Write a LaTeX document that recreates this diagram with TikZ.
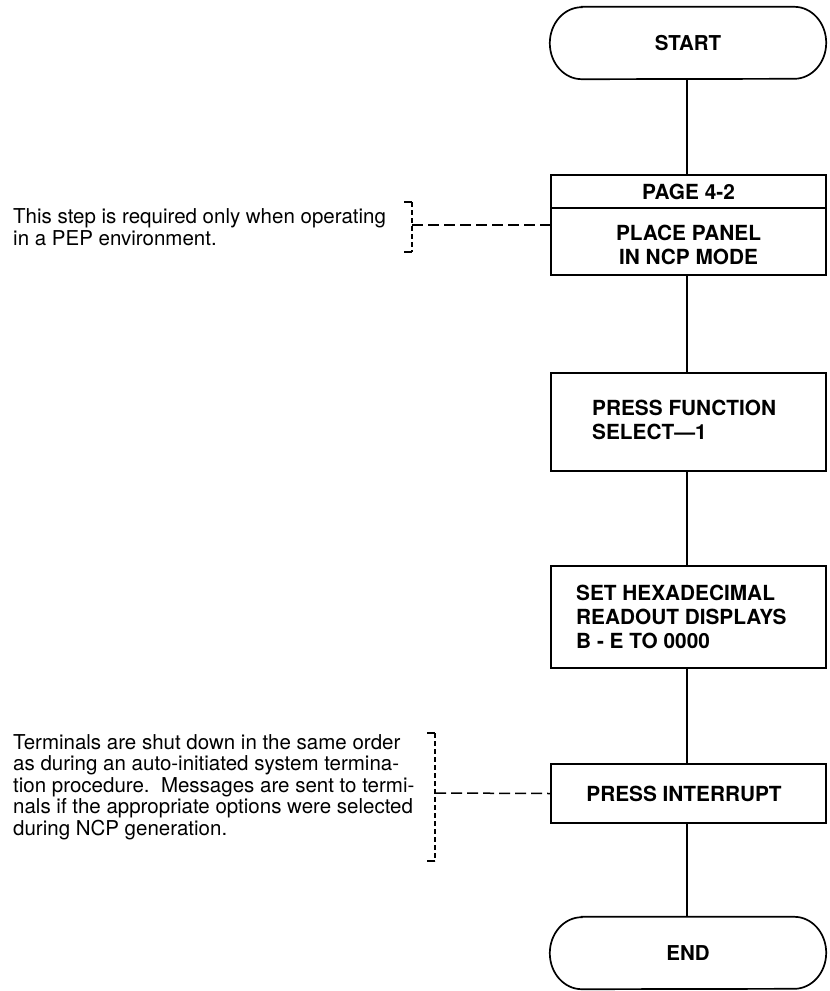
\documentclass[tikz,border=0pt]{standalone}
\usepackage{fontspec}
\setmainfont{TeX Gyre Heros}
\begin{document}
\begin{tikzpicture}[x=1pt,y=-1pt,
  box/.style={draw, line width=1.7pt, minimum width=275pt, inner sep=0pt},
  term/.style={draw=none, minimum width=276pt, minimum height=72pt, inner sep=0pt, font=\fontsize{20.5}{24}\selectfont\bfseries},
  boxtext/.style={inner sep=0pt, align=left, font=\fontsize{20.8}{24}\selectfont\bfseries},
  ctext/.style={inner sep=0pt, align=center, font=\fontsize{20.8}{24}\selectfont\bfseries},
  notetext/.style={inner sep=0pt, align=left, font=\fontsize{20.5}{21.5}\selectfont},
  conn/.style={line width=1.6pt},
  leader/.style={line width=1.5pt, dash pattern=on 11pt off 5pt},
  brackv/.style={line width=1.5pt, dash pattern=on 5pt off 3pt},
  brackh/.style={line width=1.5pt}]
\useasboundingbox (0,0) rectangle (830,991);

% terminals
\node[term] (start) at (688,43) {START};
\node[term] (end) at (688,953) {END};
\foreach \n in {start,end}{
  \draw[line width=1.7pt] ([xshift=32pt]\n.north west) -- ([xshift=-32pt]\n.north east)
    arc[start angle=90,end angle=-90,x radius=32pt,y radius=36pt]
    -- ([xshift=32pt]\n.south west)
    arc[start angle=270,end angle=90,x radius=32pt,y radius=36pt] -- cycle;
}

% page 4-2 box
\node[box, minimum height=100pt] (place) at (688.5,225) {};
\draw[line width=1.7pt] (place.west |- 0,208) -- (place.east |- 0,208);
\node[ctext] (pagehdr) at (688.5,192) {PAGE 4-2};
\node[ctext] (placetext) at (688.5,245) {PLACE PANEL\\IN NCP MODE};

% press function
\node[box, minimum height=98pt] (func) at (688.5,422) {};
\node[boxtext, anchor=west] (functext) at (592,420) {PRESS FUNCTION\\SELECT---1};

% hexadecimal
\node[box, minimum height=102pt] (hex) at (688.5,617) {};
\node[boxtext, anchor=west] (hextext) at (576,617) {SET HEXADECIMAL\\READOUT DISPLAYS\\B - E TO 0000};

% interrupt
\node[box, minimum height=59pt] (intr) at (688.5,793.5) {};
\node[ctext] (intrtext) at (684,793.5) {PRESS INTERRUPT};

% connectors
\draw[conn] (start.south -| 687,0) -- (place.north -| 687,0);
\draw[conn] (place.south -| 687,0) -- (func.north -| 687,0);
\draw[conn] (func.south -| 687,0) -- (hex.north -| 687,0);
\draw[conn] (hex.south -| 687,0) -- (intr.north -| 687,0);
\draw[conn] (intr.south -| 687,0) -- (end.north -| 687,0);

% note 1
\node[notetext, anchor=west] (note1) at (13,227) {This step is required only when operating\\in a PEP environment.};
\coordinate (b1t) at (412,202);
\coordinate (b1b) at (412,252);
\coordinate (b1m) at (412,225);
\draw[brackh] ([xshift=-8pt]b1t) -- (b1t);
\draw[brackh] ([xshift=-8pt]b1b) -- (b1b);
\draw[brackv] (b1t) -- (b1b);
\draw[leader] (b1m) -- (place.west |- b1m);

% note 2
\node[notetext, anchor=west] (note2) at (13,787) {Terminals are shut down in the same order\\as during an auto-initiated system termina-\\tion procedure.\ \ Messages are sent to termi-\\nals if the appropriate options were selected\\during NCP generation.};
\coordinate (b2t) at (435,733);
\coordinate (b2b) at (435,861);
\coordinate (b2m) at (435,793);
\draw[brackh] ([xshift=-8pt]b2t) -- (b2t);
\draw[brackh] ([xshift=-8pt]b2b) -- (b2b);
\draw[brackv] (b2t) -- (b2b);
\draw[leader] (b2m) -- (intr.west);
\end{tikzpicture}
\end{document}
